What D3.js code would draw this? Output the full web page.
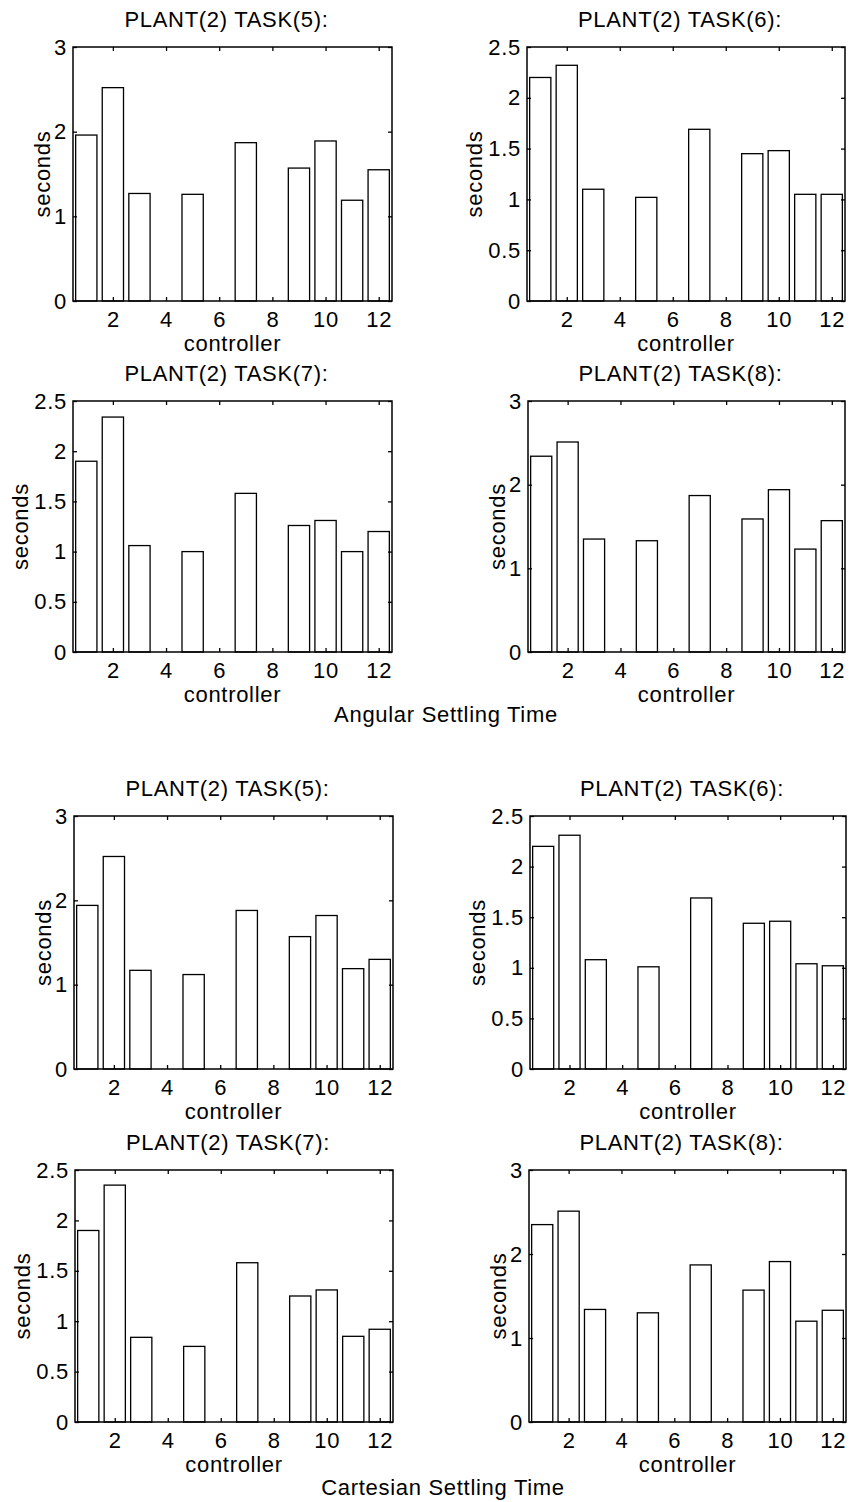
<!DOCTYPE html>
<html>
<head>
<meta charset="utf-8">
<script src="https://cdn.jsdelivr.net/npm/d3@7"></script>
<style>
  body { margin: 0; background: #fff; }
  text { font-family: "Liberation Sans", Arial, sans-serif; fill: #000; letter-spacing: 0.7px; }
</style>
</head>
<body>
<svg id="chart"></svg>
<script>
const WIDTH = 852;
const HEIGHT = 1502;
const FONT = 22;

const controllers = [1, 2, 3, 4, 5, 6, 7, 8, 9, 10, 11, 12];
const xTicks = [2, 4, 6, 8, 10, 12];
const ticks3 = [0, 1, 2, 3];
const ticks25 = [0, 0.5, 1, 1.5, 2, 2.5];

// null = no bar for that controller
const angularTask5 = [1.96, 2.52, 1.27, null, 1.26, null, 1.87, null, 1.57, 1.89, 1.19, 1.55];
const angularTask6 = [2.20, 2.32, 1.10, null, 1.02, null, 1.69, null, 1.45, 1.48, 1.05, 1.05];
const angularTask7 = [1.90, 2.34, 1.06, null, 1.00, null, 1.58, null, 1.26, 1.31, 1.00, 1.20];
const angularTask8 = [2.34, 2.51, 1.35, null, 1.33, null, 1.87, null, 1.59, 1.94, 1.23, 1.57];

const cartesianTask5 = [1.94, 2.52, 1.17, null, 1.12, null, 1.88, null, 1.57, 1.82, 1.19, 1.30];
const cartesianTask6 = [2.20, 2.31, 1.08, null, 1.01, null, 1.69, null, 1.44, 1.46, 1.04, 1.02];
const cartesianTask7 = [1.90, 2.35, 0.84, null, 0.75, null, 1.58, null, 1.25, 1.31, 0.85, 0.92];
const cartesianTask8 = [2.35, 2.51, 1.34, null, 1.30, null, 1.87, null, 1.57, 1.91, 1.20, 1.33];

const panels = [
  { title: "PLANT(2) TASK(5):", values: angularTask5, yMax: 3, yTicks: ticks3, x0: 73, x1: 392, y0: 47, y1: 301 },
  { title: "PLANT(2) TASK(6):", values: angularTask6, yMax: 2.5, yTicks: ticks25, x0: 527, x1: 845, y0: 47, y1: 301 },
  { title: "PLANT(2) TASK(7):", values: angularTask7, yMax: 2.5, yTicks: ticks25, x0: 73, x1: 392, y0: 401, y1: 652 },
  { title: "PLANT(2) TASK(8):", values: angularTask8, yMax: 3, yTicks: ticks3, x0: 528, x1: 845, y0: 401, y1: 652 },
  { title: "PLANT(2) TASK(5):", values: cartesianTask5, yMax: 3, yTicks: ticks3, x0: 74, x1: 393, y0: 816, y1: 1069 },
  { title: "PLANT(2) TASK(6):", values: cartesianTask6, yMax: 2.5, yTicks: ticks25, x0: 530, x1: 846, y0: 816, y1: 1069 },
  { title: "PLANT(2) TASK(7):", values: cartesianTask7, yMax: 2.5, yTicks: ticks25, x0: 75, x1: 393, y0: 1170, y1: 1422 },
  { title: "PLANT(2) TASK(8):", values: cartesianTask8, yMax: 3, yTicks: ticks3, x0: 529, x1: 846, y0: 1170, y1: 1422 }
];

const svg = d3.select("#chart")
  .attr("width", WIDTH)
  .attr("height", HEIGHT)
  .attr("viewBox", `0 0 ${WIDTH} ${HEIGHT}`);

panels.forEach(p => {
  const w = p.x1 - p.x0;
  const h = p.y1 - p.y0;

  const xScale = d3.scaleLinear().domain([0.5, 12.5]).range([0, w]);
  const yScale = d3.scaleLinear().domain([0, p.yMax]).range([h, 0]);
  const barW = xScale(0.9) - xScale(0.1);

  const g = svg.append("g").attr("transform", `translate(${p.x0}, ${p.y0})`);

  g.selectAll("rect.bar")
    .data(controllers.map((c, i) => ({ c, v: p.values[i] })).filter(d => d.v != null))
    .enter()
    .append("rect")
    .attr("class", "bar")
    .attr("x", d => xScale(d.c) - barW / 2)
    .attr("y", d => yScale(d.v))
    .attr("width", barW)
    .attr("height", d => h - yScale(d.v))
    .attr("fill", "#fff")
    .attr("stroke", "#000")
    .attr("stroke-width", 1.3);

  // ticks point inwards on all four sides, matlab style
  const xAxis = g.append("g")
    .attr("transform", `translate(0, ${h})`)
    .call(d3.axisBottom(xScale).tickValues(xTicks).tickSizeInner(-4).tickSizeOuter(0).tickPadding(10));
  g.append("g")
    .call(d3.axisTop(xScale).tickValues(xTicks).tickSizeInner(-4).tickSizeOuter(0).tickFormat(""));

  g.append("g")
    .call(d3.axisLeft(yScale).tickValues(p.yTicks).tickSizeInner(-4).tickSizeOuter(0).tickPadding(6)
      .tickFormat(d => String(d)));
  g.append("g")
    .attr("transform", `translate(${w}, 0)`)
    .call(d3.axisRight(yScale).tickValues(p.yTicks).tickSizeInner(-4).tickSizeOuter(0).tickFormat(""));

  g.selectAll(".domain").remove();
  g.selectAll(".tick line").attr("stroke", "#000").attr("stroke-width", 1.3);
  g.selectAll(".tick text").attr("font-size", FONT).attr("font-family", "Liberation Sans, Arial, sans-serif").attr("fill", "#000");
  xAxis.selectAll(".tick text").attr("dy", "0.71em");

  g.append("rect")
    .attr("width", w)
    .attr("height", h)
    .attr("fill", "none")
    .attr("stroke", "#000")
    .attr("stroke-width", 1.5);

  g.append("text")
    .attr("x", w / 2 - 6)
    .attr("y", -20)
    .attr("text-anchor", "middle")
    .attr("font-size", FONT)
    .text(p.title);

  g.append("text")
    .attr("x", w / 2)
    .attr("y", h + 50)
    .attr("text-anchor", "middle")
    .attr("font-size", FONT)
    .text("controller");

  // label sits further out when the tick labels are wider ("2.5" vs "3")
  const labelOffset = p.yMax === 3 ? 23 : 45;
  g.append("text")
    .attr("x", -h / 2)
    .attr("y", -labelOffset)
    .attr("transform", "rotate(-90)")
    .attr("text-anchor", "middle")
    .attr("font-size", FONT)
    .text("seconds");
});

svg.append("text")
  .attr("x", 446)
  .attr("y", 722)
  .attr("text-anchor", "middle")
  .attr("font-size", FONT)
  .text("Angular Settling Time");

svg.append("text")
  .attr("x", 443)
  .attr("y", 1495)
  .attr("text-anchor", "middle")
  .attr("font-size", FONT)
  .text("Cartesian Settling Time");
</script>
</body>
</html>
